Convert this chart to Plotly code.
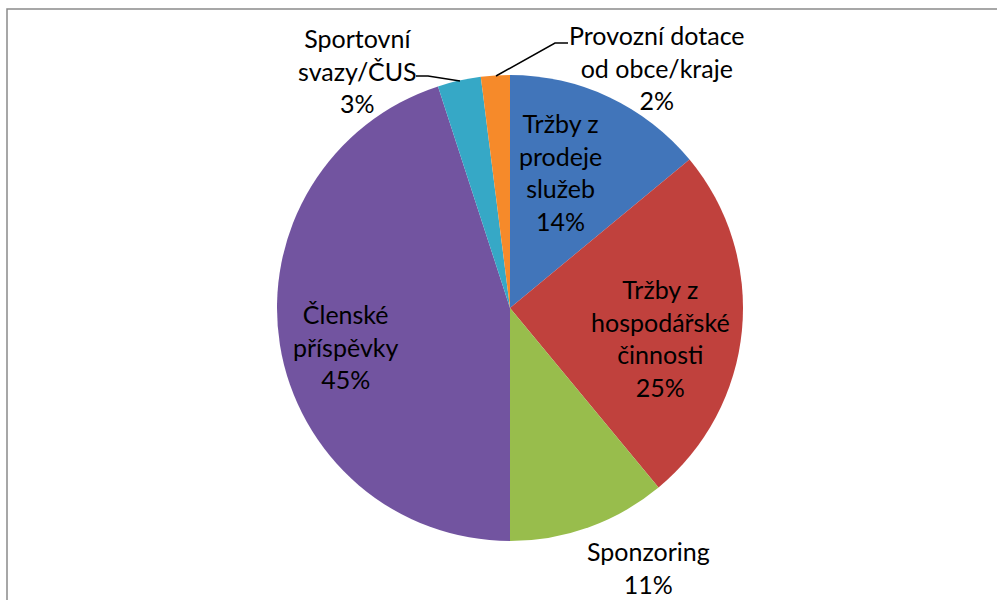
import plotly.graph_objects as go

# ---- data ----
categories = [
    "Tržby z prodeje služeb",
    "Tržby z hospodářské činnosti",
    "Sponzoring",
    "Členské příspěvky",
    "Sportovní svazy/ČUS",
    "Provozní dotace od obce/kraje",
]
display_labels = [
    "Tržby z<br>prodeje<br>služeb",
    "Tržby z<br>hospodářské<br>činnosti",
    "Sponzoring",
    "Členské<br>příspěvky",
    "Sportovní<br>svazy/ČUS",
    "Provozní dotace<br>od obce/kraje",
]
values = [14, 25, 11, 45, 3, 2]

# ---- style ----
colors = ["#4175BA", "#C0413D", "#98BD4C", "#7254A0", "#36A8C6", "#F68A2A"]
W, H = 997, 600

# label centre positions in pixels (layout only)
label_pos = [
    (560, 172),
    (660, 338),
    (648, 567),
    (345, 346),
    (357, 70),
    (657, 68),
]


def px(x):
    return x / W


def py(y):
    return 1 - y / H


fig = go.Figure()
fig.add_trace(go.Pie(
    labels=categories,
    values=values,
    sort=False,
    direction="clockwise",
    rotation=0,
    marker=dict(colors=colors, line=dict(width=0)),
    textinfo="none",
    hoverinfo="label+percent",
    showlegend=False,
    domain=dict(x=[px(277), px(743)], y=[py(541), py(75)]),
))

annotations = []
for lab, v, (x, y) in zip(display_labels, values, label_pos):
    annotations.append(dict(
        x=px(x), y=py(y), xref="paper", yref="paper",
        text=f"{lab}<br>{v}%", showarrow=False,
        xanchor="center", yanchor="middle", align="center",
        font=dict(family="Lato, Open Sans, sans-serif", size=25, color="#000000"),
    ))

shapes = [
    # chart border
    dict(type="rect", xref="paper", yref="paper",
         x0=px(7), x1=px(1005), y0=py(608), y1=py(9),
         line=dict(color="#8a8a8a", width=1.5), fillcolor="rgba(0,0,0,0)"),
    # leader line: Sportovní svazy
    dict(type="path", xref="paper", yref="paper",
         path=f"M {px(416)},{py(76)} L {px(428)},{py(76)} L {px(460)},{py(81)}",
         line=dict(color="#000000", width=1.5)),
    # leader line: Provozní dotace
    dict(type="path", xref="paper", yref="paper",
         path=f"M {px(496)},{py(76)} L {px(555)},{py(43)} L {px(568)},{py(43)}",
         line=dict(color="#000000", width=1.5)),
]

fig.update_layout(
    width=W, height=H,
    margin=dict(l=0, r=0, t=0, b=0),
    paper_bgcolor="#ffffff",
    plot_bgcolor="#ffffff",
    annotations=annotations,
    shapes=shapes,
)

fig.write_html(
    "out.html",
    config={"displayModeBar": False},
    post_script="document.body.style.margin='0px';document.body.style.overflow='hidden';",
)
